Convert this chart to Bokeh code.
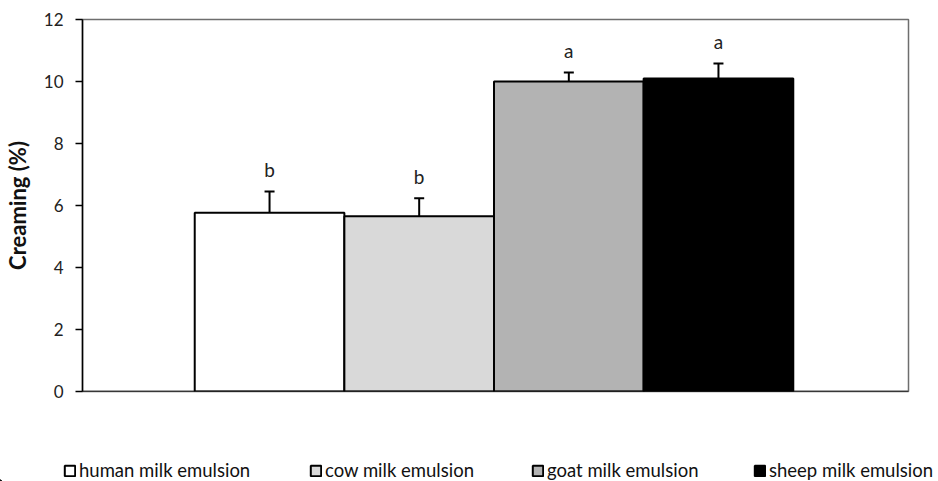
from bokeh.plotting import figure
from bokeh.models import ColumnDataSource, Legend, LegendItem, Range1d, FixedTicker, Whisker, TeeHead, Span
from bokeh.embed import file_html
from bokeh.resources import INLINE
from bokeh.core.properties import value

categories = ["human milk emulsion", "cow milk emulsion", "goat milk emulsion", "sheep milk emulsion"]
creaming = [5.77, 5.65, 10.0, 10.1]
errors = [0.68, 0.58, 0.29, 0.48]
letters = ["b", "b", "a", "a"]
colors = ["#ffffff", "#d9d9d9", "#b3b3b3", "#000000"]
y_ticks = [0, 2, 4, 6, 8, 10, 12]

FONT = "Lato"
xs = [1.25 + i for i in range(len(categories))]
upper = [v + e for v, e in zip(creaming, errors)]

src = ColumnDataSource(dict(x=xs, top=creaming, upper=upper, base=creaming,
                            letter=letters, color=colors, name=categories))

p = figure(width=938, height=440, output_backend="svg", toolbar_location=None,
           x_range=Range1d(0, 5.52), y_range=Range1d(0, 12),
           min_border_left=80, min_border_right=30, min_border_top=19, min_border_bottom=49)
p.background_fill_color = "white"
p.border_fill_color = "white"
p.grid.visible = False
p.xaxis.visible = False
p.outline_line_color = "#6e6e6e"
p.outline_line_width = 1.5

p.vbar(x="x", top="top", width=1.0, bottom=0, source=src,
       fill_color="color", line_color="#000000", line_width=2)

p.add_layout(Span(location=0, dimension="width", line_color="#000000", line_width=1.5))

w = Whisker(source=src, base="x", upper="upper", lower="base", dimension="height",
            line_color="#000000", line_width=2,
            upper_head=TeeHead(size=10, line_color="#000000", line_width=2),
            lower_head=None)
p.add_layout(w)

p.text(x="x", y="upper", text="letter", source=src, text_align="center",
       text_baseline="middle", y_offset=-22, text_font=value(FONT),
       text_font_size="19px", text_color="#222222")

ax = p.yaxis[0]
ax.ticker = FixedTicker(ticks=y_ticks)
ax.axis_label = "Creaming (%)"
ax.axis_label_text_font = FONT
ax.axis_label_text_font_style = "bold"
ax.axis_label_text_font_size = "22px"
ax.axis_label_text_color = "#111111"
ax.axis_label_standoff = 10
ax.major_label_text_font = FONT
ax.major_label_text_font_size = "17px"
ax.major_label_text_color = "#222222"
ax.major_label_standoff = 12
ax.major_tick_out = 7
ax.major_tick_in = 0
ax.minor_tick_line_color = None
ax.axis_line_color = "#000000"
ax.axis_line_width = 1.5
ax.major_tick_line_width = 1.5

# legend strip (separate root, so its frame spans the full width)
lp = figure(width=938, height=41, output_backend="svg", toolbar_location=None,
            x_range=Range1d(0, 938), y_range=Range1d(0, 41),
            min_border=0, min_border_left=0, min_border_right=0,
            min_border_top=0, min_border_bottom=0)
lp.axis.visible = False
lp.grid.visible = False
lp.outline_line_color = None
lp.background_fill_color = "white"
lp.border_fill_color = "white"

legend_x = [63, 309, 531, 753]
for i, name in enumerate(categories):
    r = lp.vbar(x=[-100], top=[1], width=1, fill_color=colors[i],
                line_color="#000000", line_width=2)
    lg = Legend(items=[LegendItem(label=name, renderers=[r])],
                location=(legend_x[i], 0), orientation="horizontal",
                glyph_width=13, glyph_height=13, label_text_font=FONT,
                label_text_font_size="18.5px", label_text_color="#111111",
                label_standoff=3, border_line_color=None,
                background_fill_alpha=0, padding=0, margin=0)
    lp.add_layout(lg, "center")

open("out.html", "w").write(file_html([p, lp], INLINE))
